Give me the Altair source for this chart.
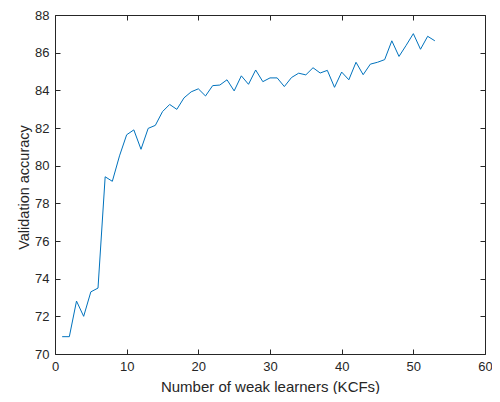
import altair as alt
import pandas as pd

# Data
n_learners = list(range(1, 54))
accuracy = [
    70.92, 70.92, 72.81, 72.00, 73.30, 73.50, 79.41, 79.17, 80.52, 81.64,
    81.90, 80.87, 81.98, 82.14, 82.87, 83.25, 82.99, 83.60, 83.92, 84.08,
    83.70, 84.25, 84.28, 84.56, 83.97, 84.77, 84.32, 85.08, 84.46, 84.66,
    84.66, 84.20, 84.68, 84.91, 84.82, 85.20, 84.92, 85.06, 84.16, 84.97,
    84.56, 85.49, 84.83, 85.39, 85.49, 85.63, 86.63, 85.80, 86.39, 87.01,
    86.18, 86.87, 86.63,
]
x_ticks = [0, 10, 20, 30, 40, 50, 60]
y_ticks = [70, 72, 74, 76, 78, 80, 82, 84, 86, 88]
x_title = "Number of weak learners (KCFs)"
y_title = "Validation accuracy"

df = pd.DataFrame({"n": n_learners, "acc": accuracy})

W, H = 430, 339
AX = "#262626"
FONT = "Liberation Sans"

xs = alt.Scale(domain=[0, 60], nice=False, zero=False)
ys = alt.Scale(domain=[70, 88], nice=False, zero=False)

base = alt.Chart(df)

main = base.mark_line(color="#0072BD", strokeWidth=1).encode(
    x=alt.X("n:Q", scale=xs, axis=alt.Axis(
        orient="bottom", values=x_ticks, ticks=False, tickSize=0,
        labelPadding=6, labelFontSize=13, labelColor=AX, labelFont=FONT,
        domain=True, domainColor=AX, domainWidth=1, grid=False,
        title=x_title, titleFont=FONT, titleFontSize=15, titleFontWeight="normal",
        titleColor=AX, titleBaseline="alphabetic", titleY=37, titleX=W / 2,
        titleAlign="center", labelFlush=False, labelOverlap=False)),
    y=alt.Y("acc:Q", scale=ys, axis=alt.Axis(
        orient="left", values=y_ticks, ticks=False, tickSize=0,
        labelPadding=6, labelFontSize=13, labelColor=AX, labelFont=FONT,
        domain=True, domainColor=AX, domainWidth=1, grid=False,
        title=y_title, titleFont=FONT, titleFontSize=14.5, titleFontWeight="normal",
        titleColor=AX, titleAngle=270, titleBaseline="alphabetic",
        titleX=-27, titleY=172, titleAlign="center",
        labelFlush=False, labelOverlap=False)),
)

ticks_a = base.mark_line(opacity=0).encode(
    x=alt.X("n:Q", scale=xs, axis=alt.Axis(
        orient="top", offset=-H, values=x_ticks, labels=False, domain=False,
        ticks=True, tickSize=5, tickColor=AX, grid=False, title=None)),
    y=alt.Y("acc:Q", scale=ys, axis=alt.Axis(
        orient="right", offset=-W, values=y_ticks, labels=False, domain=False,
        ticks=True, tickSize=5, tickColor=AX, grid=False, title=None)),
)

ticks_b = base.mark_line(opacity=0).encode(
    x=alt.X("n:Q", scale=xs, axis=alt.Axis(
        orient="bottom", offset=-H, values=x_ticks, labels=False, domain=True,
        domainColor=AX, domainWidth=1,
        ticks=True, tickSize=5, tickColor=AX, grid=False, title=None)),
    y=alt.Y("acc:Q", scale=ys, axis=alt.Axis(
        orient="left", offset=-W, values=y_ticks, labels=False, domain=True,
        domainColor=AX, domainWidth=1,
        ticks=True, tickSize=5, tickColor=AX, grid=False, title=None)),
)

chart = alt.layer(main, ticks_a, ticks_b).resolve_axis(
    x="independent", y="independent"
).properties(
    width=W, height=H,
    autosize=alt.AutoSizeParams(type="none"),
    padding={"left": 47, "top": 7, "right": 7, "bottom": 40},
    background="white",
).configure_view(stroke=None)

chart.save("out.html", embed_options={"renderer": "svg", "actions": False})
